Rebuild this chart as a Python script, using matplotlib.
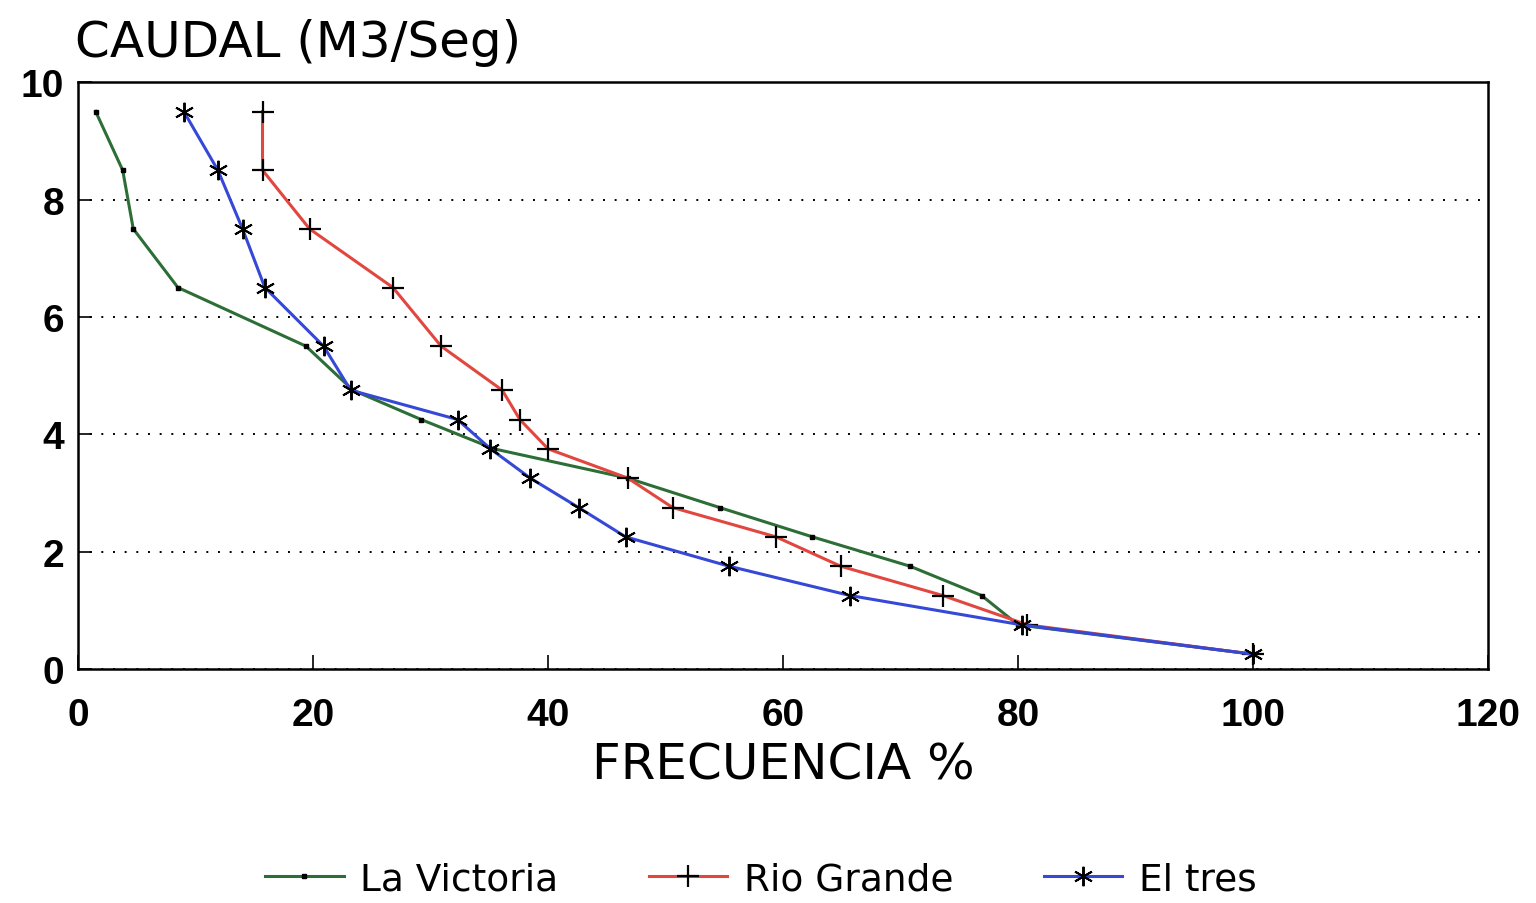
import numpy as np
import matplotlib
matplotlib.use('Agg')
import matplotlib.pyplot as plt

# caudal levels (m3/seg) shared by the three stations
caudal = [9.5, 8.5, 7.5, 6.5, 5.5, 4.75, 4.25, 3.75, 3.25, 2.75, 2.25, 1.75, 1.25, 0.75, 0.25]

# frecuencia %
frec_victoria = [1.5, 3.8, 4.7, 8.5, 19.4, 23.4, 29.2, 35.4, 46.8, 54.6, 62.5, 70.8, 76.9, 80.0, 100.0]
frec_rio = [15.7, 15.7, 19.7, 26.8, 30.9, 36.1, 37.6, 40.0, 46.8, 50.6, 59.4, 64.9, 73.6, 80.8, 100.0]
frec_tres = [9.0, 11.9, 14.0, 15.9, 20.9, 23.2, 32.3, 35.1, 38.5, 42.6, 46.6, 55.4, 65.7, 80.3, 100.0]

series = ['La Victoria', 'Rio Grande', 'El tres']
xticks = [0, 20, 40, 60, 80, 100, 120]
yticks = [0, 2, 4, 6, 8, 10]

GreenCol = '#2c6e36'
RedCol = '#e2473f'
BlueCol = '#3548d6'

plt.rcParams['font.family'] = ['Liberation Sans', 'DejaVu Sans']

fig = plt.figure(figsize=(15.36, 9.04), dpi=100)
ax = fig.add_axes([0.0508, 0.259, 0.918, 0.649])

ax.plot(frec_victoria, caudal, color=GreenCol, linewidth=2.2, marker='s', markersize=3.5,
        markerfacecolor='k', markeredgecolor='k', label=series[0])
ax.plot(frec_rio, caudal, color=RedCol, linewidth=2.2, marker='+', markersize=16,
        markeredgewidth=1.6, markeredgecolor='k', label=series[1])
ax.plot(frec_tres, caudal, color=BlueCol, linewidth=2.2, marker=(6, 2, 0), markersize=14,
        markeredgewidth=1.4, markeredgecolor='k', label=series[2])

ax.set_xlim(0, 120)
ax.set_ylim(0, 10)
ax.set_xticks(xticks)
ax.set_yticks(yticks)
ax.tick_params(direction='in', length=10, width=1.2, labelsize=28)
ax.tick_params(axis='x', pad=20)
ax.tick_params(axis='y', pad=10)
for lab in ax.get_xticklabels() + ax.get_yticklabels():
    lab.set_fontweight('bold')
ax.yaxis.grid(True, linestyle=(0, (1, 5)), color='k', linewidth=1.4)
for s in ax.spines.values():
    s.set_linewidth(1.8)

ax.set_xlabel('FRECUENCIA %', fontsize=36, family='DejaVu Sans', labelpad=6)
fig.text(0.049, 0.952, 'CAUDAL (M3/Seg)', fontsize=36, family='DejaVu Sans',
         va='center', ha='left')

fig.legend(loc='center', bbox_to_anchor=(0.4954, 0.026), ncol=3, frameon=False,
           prop={'family': 'DejaVu Sans', 'size': 27},
           handlelength=2.1, columnspacing=2.4, handletextpad=0.45, numpoints=1)

plt.savefig('out.png', dpi=100)
